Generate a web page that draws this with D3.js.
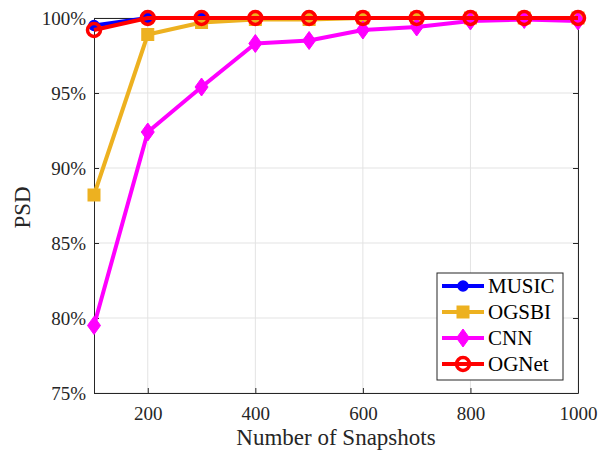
<!DOCTYPE html>
<html>
<head>
<meta charset="utf-8">
<script src="https://cdn.jsdelivr.net/npm/d3@7"></script>
<style>
    body { margin: 0; background: #fff; }
    svg text { font-family: "Liberation Serif", "Times New Roman", serif; }
</style>
</head>
<body>
<div id="chart"></div>
<script>
const snapshots = [100, 200, 300, 400, 500, 600, 700, 800, 900, 1000];
const music = [99.5, 100, 100, 100, 100, 100, 100, 100, 100, 100];
const ogsbi = [88.2, 98.9, 99.7, 99.9, 99.9, 100, 100, 100, 100, 100];
const cnn = [79.5, 92.4, 95.4, 98.3, 98.5, 99.2, 99.4, 99.8, 99.9, 99.8];
const ognet = [99.2, 100, 100, 100, 100, 100, 100, 100, 100, 100];
const xTicks = [200, 400, 600, 800, 1000];
const yTicks = [75, 80, 85, 90, 95, 100];

const series = [
    { name: 'MUSIC', values: music, color: '#0000ff', marker: 'circle' },
    { name: 'OGSBI', values: ogsbi, color: '#edb120', marker: 'square' },
    { name: 'CNN', values: cnn, color: '#ff00ff', marker: 'diamond' },
    { name: 'OGNet', values: ognet, color: '#ff0000', marker: 'ring' }
];

const width = 603, height = 455;
const margin = { top: 18, right: 25, bottom: 62, left: 94 };

const x = d3.scaleLinear().domain([100, 1000]).range([margin.left, width - margin.right]);
const y = d3.scaleLinear().domain([75, 100]).range([height - margin.bottom, margin.top]);

const svg = d3.select('#chart').append('svg')
    .attr('width', width)
    .attr('height', height);

// grid
svg.append('g').selectAll('line')
    .data(xTicks)
    .enter().append('line')
    .attr('x1', d => x(d)).attr('x2', d => x(d))
    .attr('y1', y(75)).attr('y2', y(100))
    .attr('stroke', '#e3e3e3').attr('stroke-width', 1);
svg.append('g').selectAll('line')
    .data(yTicks)
    .enter().append('line')
    .attr('x1', x(100)).attr('x2', x(1000))
    .attr('y1', d => y(d)).attr('y2', d => y(d))
    .attr('stroke', '#e3e3e3').attr('stroke-width', 1);

// axes
const fmtPct = d => d + '%';
const axisStyle = g => {
    g.attr('font-family', null);
    g.select('.domain').attr('stroke', '#262626');
    g.selectAll('.tick line').attr('stroke', '#262626');
    g.selectAll('.tick text').attr('fill', '#262626').style('font-size', '19px');
};
svg.append('g')
    .attr('transform', `translate(0,${y(75)})`)
    .call(d3.axisBottom(x).tickValues(xTicks).tickSizeInner(-5).tickSizeOuter(0).tickPadding(14).tickFormat(d3.format('d')))
    .call(axisStyle);
svg.append('g')
    .attr('transform', `translate(0,${y(100)})`)
    .call(d3.axisTop(x).tickValues(xTicks).tickSizeInner(-5).tickSizeOuter(0).tickFormat(''))
    .call(axisStyle);
svg.append('g')
    .attr('transform', `translate(${x(100)},0)`)
    .call(d3.axisLeft(y).tickValues(yTicks).tickSizeInner(-5).tickSizeOuter(0).tickPadding(8).tickFormat(fmtPct))
    .call(axisStyle);
svg.append('g')
    .attr('transform', `translate(${x(1000)},0)`)
    .call(d3.axisRight(y).tickValues(yTicks).tickSizeInner(-5).tickSizeOuter(0).tickFormat(''))
    .call(axisStyle);

// axis labels
svg.append('text')
    .attr('x', (x(100) + x(1000)) / 2)
    .attr('y', 445)
    .attr('text-anchor', 'middle')
    .attr('fill', '#262626')
    .style('font-size', '23px')
    .text('Number of Snapshots');
svg.append('text')
    .attr('transform', `translate(30,${(y(75) + y(100)) / 2 + 2}) rotate(-90)`)
    .attr('text-anchor', 'middle')
    .attr('fill', '#262626')
    .style('font-size', '23px')
    .text('PSD');

function drawMarker(g, type, color) {
    if (type === 'circle') {
        g.append('circle').attr('r', 5).attr('fill', color).attr('stroke', color).attr('stroke-width', 1.5);
    } else if (type === 'square') {
        g.append('rect').attr('x', -6).attr('y', -6).attr('width', 12).attr('height', 12)
            .attr('fill', color).attr('stroke', color).attr('stroke-width', 1);
    } else if (type === 'diamond') {
        g.append('path').attr('d', 'M0,-9L6.5,0L0,9L-6.5,0Z')
            .attr('fill', color).attr('stroke', color).attr('stroke-width', 1);
    } else {
        g.append('circle').attr('r', 6.5).attr('fill', 'none').attr('stroke', color).attr('stroke-width', 3.5);
    }
}

const line = d3.line().x(d => x(d.x)).y(d => y(d.y));
const plot = svg.append('g');
series.forEach(s => {
    const pts = snapshots.map((v, i) => ({ x: v, y: s.values[i] }));
    plot.append('path')
        .datum(pts)
        .attr('d', line)
        .attr('fill', 'none')
        .attr('stroke', s.color)
        .attr('stroke-width', 4)
        .attr('stroke-linejoin', 'round');
    plot.selectAll(null)
        .data(pts)
        .enter().append('g')
        .attr('transform', d => `translate(${x(d.x)},${y(d.y)})`)
        .each(function () { drawMarker(d3.select(this), s.marker, s.color); });
});

// legend
const legend = svg.append('g').attr('transform', 'translate(437,273)');
legend.append('rect')
    .attr('width', 126).attr('height', 107)
    .attr('fill', '#fff').attr('stroke', '#262626').attr('stroke-width', 1);
series.forEach((s, i) => {
    const row = legend.append('g').attr('transform', `translate(0,${13 + i * 26})`);
    row.append('line').attr('x1', 5).attr('x2', 47).attr('stroke', s.color).attr('stroke-width', 4);
    drawMarker(row.append('g').attr('transform', 'translate(26,0)'), s.marker, s.color);
    row.append('text').attr('x', 51).attr('y', 7)
        .attr('fill', '#000').style('font-size', '21px').text(s.name);
});
</script>
</body>
</html>
